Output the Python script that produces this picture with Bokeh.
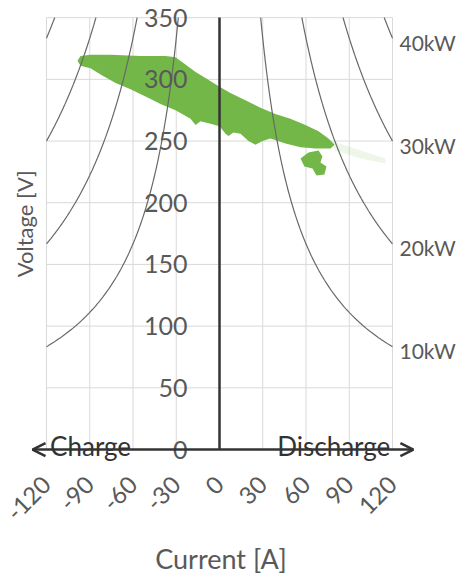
import numpy as np
from math import pi
from bokeh.plotting import figure
from bokeh.models import FixedTicker, Arrow, OpenHead, Label, Range1d
from bokeh.embed import file_html
from bokeh.resources import INLINE

# ---- data ----
x_ticks = [-120, -90, -60, -30, 0, 30, 60, 90, 120]
x_tick_labels = ["-120", "-90", "-60", "-30", "0", "30", "60", "90", "120"]
y_ticks = [0, 50, 100, 150, 200, 250, 300, 350]
power_kw = [10, 20, 30, 40]
power_labels = ["10kW", "20kW", "30kW", "40kW"]

# outline of the measured operating-point cloud (current A, voltage V)
cloud_current = [-98.5, -96.4, -89.5, -75.6, -54.8, -37.4, -30.5, -23.6, -16.6, -9.7,
                 0.0, 7.6, 18.0, 28.4, 38.8, 49.2, 59.6, 68.7, 75.6, 79.8,
                 77.0, 66.6, 56.2, 45.8, 35.4, 29.8, 25.0, 20.1, 14.6, 9.7,
                 6.2, 4.2, 0.0, -6.2, -13.2, -16.6, -20.1, -30.5, -40.9, -51.3,
                 -61.7, -72.1, -82.5, -89.5, -96.4]
cloud_voltage = [315, 319, 320, 320, 319, 319, 318, 312, 306, 301,
                 294, 289, 283, 277, 272, 268, 263, 258, 252, 247,
                 244, 244, 245, 248, 252, 250, 247, 250, 256, 257,
                 254, 256, 262, 264, 266, 263, 268, 275, 280, 286,
                 292, 297, 304, 309, 311]
blob_current = [56.2, 61.7, 68.7, 71.4, 70.0, 74.2, 72.8, 67.3, 64.5, 58.9]
blob_voltage = [235.8, 240.7, 242.3, 237.4, 232.6, 229.3, 222.9, 222.0, 227.7, 229.3]
wisp_current = [77.0, 97.8, 115.1, 115.1, 97.8, 80.4]
wisp_voltage = [250.4, 242.3, 235.8, 231.8, 235.8, 242.3]

FONT = "Lato"
GRAY = "#595959"
DARK = "#333333"
GREEN = "#6CB33F"
CURVE = "#686868"

# the frame fills the whole page so that texts and arrows outside the
# plotting area (|I|<=120, 0<=V<=350) are not clipped
p = figure(width=456, height=574,
           x_range=Range1d(-151.9, 164.4), y_range=Range1d(-101.3, 363.9),
           output_backend="svg", toolbar_location=None,
           min_border_left=0, min_border_right=0,
           min_border_top=0, min_border_bottom=0)
p.outline_line_color = None
p.background_fill_color = "white"
p.grid.visible = False

# grid lines limited to the plotting area
p.segment(x0=x_ticks, y0=[y_ticks[0]] * len(x_ticks), x1=x_ticks, y1=[y_ticks[-1]] * len(x_ticks),
          line_color="#d9d9d9", line_width=1)
p.segment(x0=[x_ticks[0]] * len(y_ticks), y0=y_ticks, x1=[x_ticks[-1]] * len(y_ticks), y1=y_ticks,
          line_color="#d9d9d9", line_width=1)

# cloud
p.patch(cloud_current, cloud_voltage, fill_color=GREEN, fill_alpha=0.95, line_color=None)
p.patch(blob_current, blob_voltage, fill_color=GREEN, fill_alpha=0.95, line_color=None)
p.patch(wisp_current, wisp_voltage, fill_color=GREEN, fill_alpha=0.12, line_color=None)

# constant power curves
for kw in power_kw:
    i = np.linspace(kw * 1000 / 350, 120, 200)
    v = kw * 1000 / i
    p.line(i, v, line_color=CURVE, line_width=1.2)
    p.line(-i, v, line_color=CURVE, line_width=1.2)

# x axis (labels only), fixed at V = 0
xt = FixedTicker(ticks=x_ticks)
xa = p.xaxis[0]
xa.ticker = xt
xa.fixed_location = 0
xa.bounds = (x_ticks[0], x_ticks[-1])
xa.major_label_overrides = dict(zip(x_ticks, x_tick_labels))
xa.axis_line_color = None
xa.major_tick_line_color = None
xa.minor_tick_line_color = None
xa.major_label_orientation = pi / 4
xa.major_label_standoff = 25
xa.major_label_text_font = FONT
xa.major_label_text_font_size = "24px"
xa.major_label_text_color = GRAY

# y axis fixed at I = 0
yt = FixedTicker(ticks=y_ticks)
ya = p.yaxis[0]
ya.ticker = yt
ya.fixed_location = 0
ya.bounds = (y_ticks[0], y_ticks[-1])
ya.axis_line_color = DARK
ya.axis_line_width = 2.5
ya.major_tick_line_color = None
ya.minor_tick_line_color = None
ya.major_label_standoff = 26
ya.major_label_text_font = FONT
ya.major_label_text_font_size = "25px"
ya.major_label_text_color = GRAY

# axis titles
p.add_layout(Label(x=1, y=-88, text="Current [A]", text_align="center",
                   text_baseline="middle", text_font=FONT, text_font_size="27px",
                   text_color=GRAY))
p.add_layout(Label(x=-135.2, y=183, text="Voltage [V]", angle=pi / 2,
                   text_align="center", text_baseline="middle", text_font=FONT,
                   text_font_size="22px", text_color=GRAY))

# horizontal axis line with arrows on both ends
p.add_layout(Arrow(x_start=-129.7, y_start=0, x_end=134.5, y_end=0,
                   line_color=DARK, line_width=2.5,
                   start=OpenHead(size=13, line_color=DARK, line_width=2.5),
                   end=OpenHead(size=13, line_color=DARK, line_width=2.5)))

p.add_layout(Label(x=-117.5, y=0, y_offset=4, text="Charge", text_align="left",
                   text_baseline="alphabetic", text_font=FONT,
                   text_font_size="26px", text_color=DARK))
p.add_layout(Label(x=118.5, y=0, y_offset=4, text="Discharge", text_align="right",
                   text_baseline="alphabetic", text_font=FONT,
                   text_font_size="26px", text_color=DARK))

for kw, lab in zip(power_kw, power_labels):
    p.add_layout(Label(x=120, y=kw * 1000 / 120, x_offset=7, y_offset=-4, text=lab,
                       text_align="left", text_baseline="middle", text_font=FONT,
                       text_font_size="21px", text_color=GRAY))

open("out.html", "w").write(file_html(p, INLINE))
